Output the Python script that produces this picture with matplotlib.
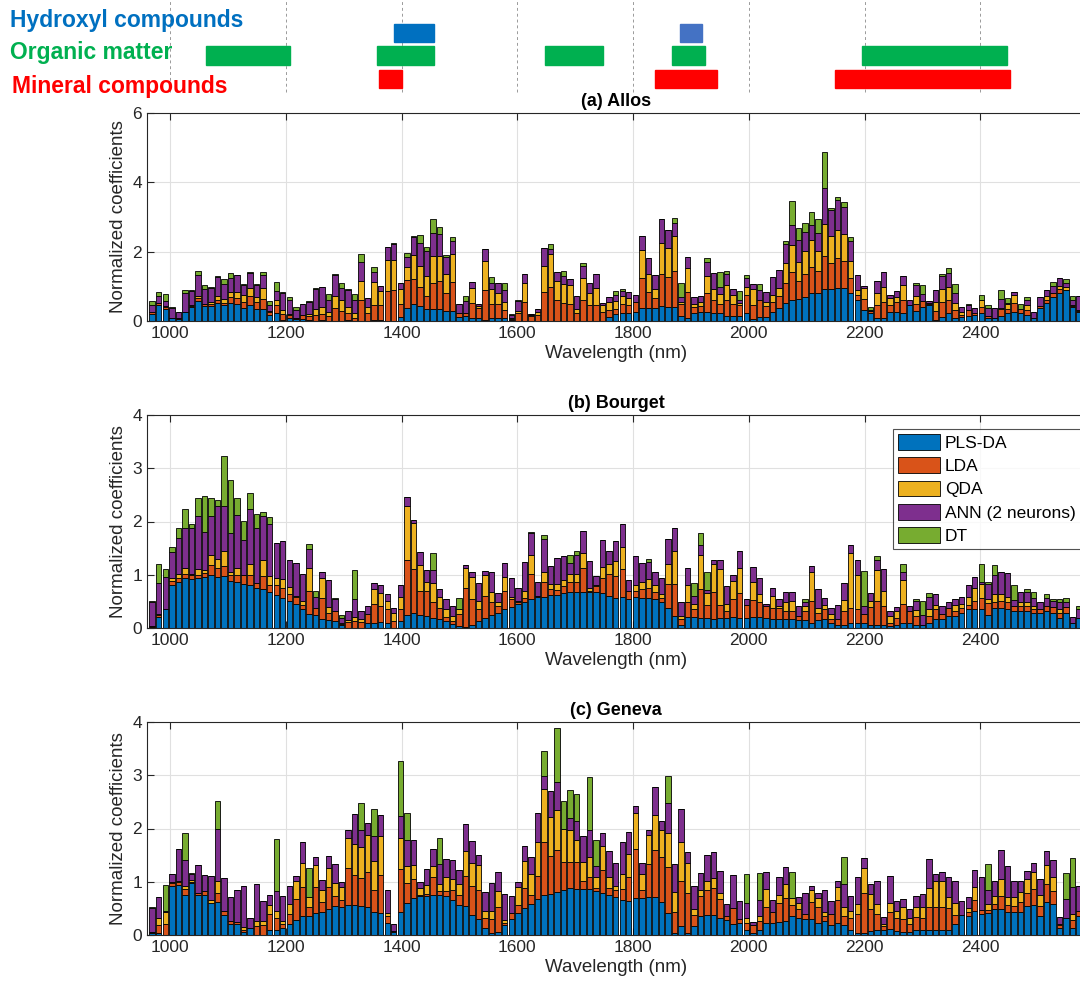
import numpy as np
import matplotlib
matplotlib.use("Agg")
import matplotlib.pyplot as plt
from matplotlib.patches import Rectangle

plt.rcParams['font.family'] = ['Liberation Sans', 'DejaVu Sans']

# band centres (nm), 143 bands
wavelengths = np.linspace(969, 2571, 143)

methods = ["PLS-DA", "LDA", "QDA", "ANN (2 neurons)", "DT"]
colors = ["#0072BD", "#D95319", "#EDB120", "#7E2F8E", "#77AC30"]

# ---- (a) Allos ----
allos_pls = [0.2,0.46,0.35,0.08,0.05,0.25,0.41,0.59,0.44,0.44,
             0.51,0.46,0.51,0.49,0.37,0.46,0.34,0.34,0.17,0.22,
             0.02,0.08,0.06,0.06,0.03,0.01,0.03,0,0,0,
             0.02,0,0,0,0.03,0.02,0,0,0.12,0.37,
             0.48,0.43,0.34,0.35,0.35,0.29,0.29,0.12,0.14,0.08,
             0.08,0.03,0.08,0.08,0.08,0.02,0,0,0,0,
             0,0,0,0,0,0,0,0,0,0,
             0.12,0.2,0.22,0.22,0.27,0.37,0.37,0.37,0.44,0.41,
             0.41,0.14,0.08,0.22,0.27,0.27,0.24,0.22,0.14,0.14,
             0.14,0.22,0.05,0.12,0.12,0.27,0.37,0.53,0.61,0.63,
             0.7,0.8,0.82,0.91,0.92,0.94,0.94,0.8,0.61,0.32,
             0.24,0.08,0.08,0.27,0.27,0.22,0.46,0.3,0.41,0.45,
             0.03,0.12,0.24,0.08,0.12,0.14,0.17,0.22,0.1,0.08,
             0.14,0.22,0.27,0.22,0.17,0.08,0.37,0.53,0.7,0.82,
             0.89,0.39,0.27]
allos_lda = [0.05,0.05,0.06,0.02,0.03,0,0.02,0.08,0.04,0.05,
             0.1,0.07,0.19,0.18,0.19,0.25,0.2,0.29,0.08,0.24,
             0.17,0.1,0.03,0.1,0.12,0.17,0.17,0.14,0.37,0.29,
             0.2,0.1,0.6,0.22,0.43,0.43,0.87,0.89,0.37,0.82,
             0.72,0.56,0.38,0.76,0.79,0.51,0.83,0.1,0.08,0.45,
             0.3,0.86,0.41,0.41,0.24,0.05,0.22,0.56,0.15,0.17,
             0.85,0.99,0.6,0.51,0.5,0.22,0.62,0.46,0.46,0.27,
             0.21,0.16,0.27,0.24,0.29,0.87,0.48,0.29,0.93,0.87,
             1.04,0.35,0.75,0.17,0.17,0.53,0.37,0.27,0.48,0.36,
             0.32,0.53,0.41,0.5,0.31,0.29,0.34,0.58,0.8,0.51,
             0.67,0.77,0.61,0.97,0.76,0.87,0.8,0.45,0.14,0.31,
             0.04,0.38,0.48,0.19,0.29,0.4,0,0.19,0.17,0.05,
             0.27,0.43,0.37,0.24,0.05,0.17,0.05,0.17,0.05,0.01,
             0.22,0.14,0.24,0.12,0.16,0.02,0.07,0.08,0.1,0.1,
             0,0.05,0.03]
allos_qda = [0.02,0.02,0.03,0,0,0,0.02,0.05,0,0.05,
             0.12,0.1,0.14,0.17,0.19,0.25,0.16,0.32,0.05,0.14,
             0.12,0.03,0,0.02,0.05,0.18,0.2,0.13,0.36,0.32,
             0.19,0.14,0.55,0.19,0.67,0.41,0.88,0.88,0.42,0.38,
             0.7,0.6,0.57,0.77,0.74,0.55,0.81,0,0.02,0.41,
             0.05,0.85,0.42,0.33,0.24,0.02,0.08,0.55,0.02,0.1,
             0.75,0.94,0.56,0.56,0.53,0.14,0.63,0.36,0.48,0.19,
             0.22,0.21,0.23,0.19,0,0.82,0.51,0.26,0.88,0.82,
             1.0,0.05,0.71,0.1,0.12,0.5,0.31,0.28,0.43,0.24,
             0.05,0.22,0.45,0,0.12,0.19,0.24,0.56,0.79,0.55,
             0.64,0.77,0.6,0.93,0.77,0.82,0.77,0.48,0.14,0.32,
             0.02,0.36,0.43,0.19,0.14,0.41,0,0.23,0,0.02,
             0.26,0.38,0.38,0.19,0.1,0,0.02,0.21,0,0,
             0.02,0.12,0.24,0,0.12,0,0,0.1,0,0.08,
             0.1,0.02,0.02]
allos_ann = [0.2,0.2,0.13,0.28,0.17,0.55,0.42,0.6,0.43,0.4,
             0.55,0.45,0.4,0.48,0.29,0.43,0.34,0.38,0.15,0.27,
             0.5,0.4,0.22,0.3,0.35,0.57,0.57,0.33,0.6,0.34,
             0.48,0.36,0.56,0.24,0.29,0.14,0.38,0.46,0.19,0.29,
             0.53,0.66,0.73,0.65,0.63,0.51,0.38,0.27,0.33,0.19,
             0.06,0.33,0.2,0.29,0.34,0.08,0.28,0.26,0.02,0.07,
             0.5,0.16,0.24,0.23,0.19,0.36,0.33,0.27,0.43,0.05,
             0.14,0.19,0.14,0.19,0.19,0.4,0.45,0.41,0.7,0.53,
             0.37,0.16,0.32,0.21,0.16,0.41,0.46,0.22,0.3,0.17,
             0.1,0.26,0.17,0.27,0.29,0.51,0.53,0.55,0.58,0.65,
             0.56,0.43,0.51,1.04,0.75,0.87,0.79,0.59,0.45,0.07,
             0.02,0.32,0.43,0.1,0.17,0.26,0.14,0.32,0.21,0.07,
             0.34,0.36,0.4,0.29,0.14,0.16,0.13,0,0.22,0.28,
             0.26,0.05,0.08,0.01,0.16,0.15,0.26,0.19,0.21,0.24,
             0.12,0.16,0.41]
allos_dt = [0.12,0.1,0.2,0.02,0.02,0.1,0.03,0.12,0.14,0.03,
            0.02,0.12,0.15,0.02,0.02,0.02,0.02,0.09,0.14,0.26,
            0.02,0.08,0.1,0.02,0.02,0.01,0,0.19,0.02,0.16,
            0.02,0.18,0.22,0.02,0.14,0.02,0.01,0.01,0,0.11,
            0.02,0.22,0.12,0.41,0.21,0.03,0.1,0,0.14,0,
            0,0,0.15,0,0.19,0.02,0.02,0,0,0,
            0,0.13,0,0.13,0,0,0.08,0,0,0,
            0,0.1,0.06,0.01,0,0,0,0,0,0,
            0.14,0.41,0,0,0,0.1,0,0.43,0.1,0,
            0.26,0.1,0,0.19,0,0,0,0.08,0.67,0.34,
            0.27,0.38,0.41,1.03,0.07,0.07,0.12,0.1,0,0,
            0.07,0,0,0,0,0,0,0.07,0.24,0,
            0,0.08,0.13,0.27,0,0.01,0,0.15,0.09,0,
            0.26,0.12,0,0.14,0.08,0,0,0,0.12,0,
            0.1,0.11,0]

# ---- (b) Bourget ----
bourget_pls = [0.02,0.21,0.36,0.81,0.86,0.94,0.92,0.94,0.96,0.99,
               0.96,0.97,0.89,0.87,0.83,0.8,0.75,0.73,0.68,0.62,
               0.57,0.51,0.45,0.36,0.27,0.25,0.17,0.15,0.13,0.06,
               0,0,0,0.1,0.1,0.11,0.1,0,0.13,0.25,
               0.29,0.24,0.22,0.19,0.16,0.13,0.08,0.03,0.02,0.06,
               0.13,0.19,0.25,0.29,0.36,0.4,0.45,0.49,0.55,0.59,
               0.59,0.62,0.62,0.66,0.67,0.67,0.67,0.67,0.67,0.66,
               0.61,0.57,0.59,0.55,0.59,0.57,0.57,0.54,0.49,0.38,
               0.22,0.06,0.21,0.21,0.19,0.19,0.17,0.19,0.19,0.21,
               0.19,0.19,0.21,0.21,0.19,0.17,0.17,0.16,0.16,0.15,
               0.15,0.1,0.15,0.16,0.1,0.06,0.06,0.1,0.1,0.1,
               0.06,0.06,0.06,0.03,0.06,0.1,0.1,0.06,0.06,0.1,
               0.17,0.17,0.22,0.22,0.29,0.35,0.36,0.35,0.25,0.38,
               0.38,0.35,0.32,0.32,0.32,0.29,0.29,0.32,0.29,0.19,
               0.29,0.1,0.19]
bourget_lda = [0.01,0.03,0,0.08,0.08,0.08,0.07,0.06,0.08,0.19,
               0.16,0.2,0.1,0.12,0.17,0.2,0.1,0.25,0.13,0.18,
               0.19,0.13,0.13,0.08,0.42,0.13,0.4,0.14,0.19,0.02,
               0.11,0.13,0.11,0.16,0.35,0.3,0.25,0.13,0.22,1.02,
               0.81,0.45,0.48,0.3,0.22,0.08,0.06,0.24,0.74,0.48,
               0.22,0.41,0.24,0.13,0.34,0.15,0.04,0.08,0.46,0.02,
               0.27,0.11,0.1,0.13,0.19,0.2,0.45,0.03,0.11,0.28,
               0.41,0.41,0.51,0.15,0.11,0.16,0.19,0.13,0.08,0.45,
               0.61,0.1,0.28,0.14,0.54,0.25,0.5,0.25,0.13,0.33,
               0.46,0.25,0.32,0.27,0.22,0.21,0.21,0.16,0.16,0.08,
               0.16,0.41,0.13,0.2,0.06,0.1,0.25,0.27,0.25,0.16,
               0.34,0.45,0.35,0.06,0.13,0.35,0.22,0.17,0,0.13,
               0.18,0.1,0.16,0.1,0.08,0.08,0.15,0.22,0.22,0.11,
               0.13,0.13,0.1,0.1,0.1,0.06,0.06,0.1,0.1,0.1,
               0.1,0,0]
bourget_qda = [0,0.03,0,0.05,0.08,0.1,0.03,0.11,0.05,0.2,
               0.17,0.27,0.07,0.14,0,0.21,0,0.29,0.17,0.14,
               0.16,0.13,0.03,0.06,0.43,0,0.36,0.1,0,0.02,
               0.04,0.08,0.05,0,0.29,0.25,0.16,0.16,0.24,1.02,
               0.88,0.5,0.17,0.36,0.21,0.15,0.08,0.08,0.36,0.41,
               0.16,0.39,0.18,0.06,0.25,0.04,0.02,0.13,0.36,0,
               0.19,0.1,0.1,0.11,0.16,0.15,0.29,0.06,0.02,0.21,
               0.19,0.27,0.43,0,0.1,0.13,0.16,0.13,0.06,0.38,
               0.62,0.06,0.32,0.1,0.64,0.22,0.54,0.67,0.13,0.35,
               0.47,0,0.34,0.16,0,0.22,0.03,0.16,0.19,0,
               0.1,0.54,0.09,0.08,0.11,0,0.22,1.04,0.65,0,
               0.11,0.57,0.29,0.13,0.13,0.46,0,0.11,0,0.13,
               0.08,0,0,0.11,0.08,0.15,0.24,0.25,0.07,0.15,
               0.13,0.1,0,0.06,0.06,0.06,0,0,0,0.06,
               0,0,0]
bourget_ann = [0.46,0.58,0.59,0.48,0.67,0.75,0.86,0.99,0.72,0.72,
               1.0,0.85,0.72,0.99,0.66,1.02,1.03,0.83,0.97,0.66,
               0.71,0.51,0.62,0.51,0.36,0.21,0.13,0.52,0.22,0.08,
               0.17,0.33,0.16,0.16,0.11,0.15,0.13,0.08,0.22,0.17,
               0.04,0.24,0.22,0.24,0.15,0.18,0.19,0,0.07,0.11,
               0.33,0.08,0.39,0.17,0.27,0.34,0.24,0.54,0.41,0.26,
               0.62,0.34,0.49,0.46,0.21,0.35,0.41,0.49,0.17,0.51,
               0.24,0.38,0.43,0.21,0.55,0.37,0.32,0.25,0.3,0.46,
               0.42,0.27,0.31,0.16,0.18,0.06,0.06,0.17,0.33,0.1,
               0.32,0.11,0.27,0.3,0.05,0.15,0.13,0.2,0.17,0.19,
               0.08,0.11,0.37,0.13,0.11,0.27,0.32,0.15,0.27,0.16,
               0.15,0.19,0.4,0.1,0.08,0.14,0.1,0.16,0.19,0.22,
               0.21,0.14,0.1,0.11,0.13,0.22,0.21,0.04,0.29,0.35,
               0.41,0.45,0.1,0.2,0.2,0.16,0.13,0.14,0.11,0.13,
               0.1,0.11,0.16]
bourget_dt = [0.02,0.36,0.15,0.11,0.19,0.36,0.08,0.35,0.66,0.34,
              0.11,0.94,1.0,0.32,0.35,0.3,0.27,0.08,0.13,0,
              0,0,0,0,0.09,0.11,0,0,0.03,0.06,
              0,0.54,0,0,0,0,0,0,0,0,
              0,0,0,0.31,0,0,0,0.22,0,0,
              0,0,0,0,0,0,0,0,0.02,0,
              0.08,0,0,0,0.14,0.08,0,0,0,0,
              0,0,0,0,0,0,0.05,0,0,0,
              0,0,0,0.24,0.24,0.33,0,0,0,0,
              0,0,0,0,0,0,0,0,0,0,
              0.06,0,0,0,0,0,0,0,0,0.65,
              0,0.08,0,0,0,0.16,0,0.05,0.25,0.08,
              0,0,0,0,0,0,0,0.35,0.03,0.2,
              0,0,0.28,0,0.05,0.11,0,0.08,0.05,0.06,
              0.08,0,0.06]

# ---- (c) Geneva ----
geneva_pls = [0.03,0.03,0,0.92,0.94,0.76,0.98,0.76,0.75,0.6,
              0.62,0.37,0.2,0.2,0.06,0.13,0,0,0.1,0.1,
              0.13,0.2,0.29,0.35,0.35,0.41,0.44,0.49,0.54,0.52,
              0.57,0.56,0.54,0.52,0.44,0.41,0.22,0.05,0.43,0.6,
              0.7,0.73,0.73,0.76,0.75,0.73,0.65,0.57,0.55,0.38,
              0.3,0.13,0.03,0.05,0.19,0.3,0.41,0.51,0.58,0.67,
              0.76,0.77,0.81,0.84,0.88,0.86,0.86,0.86,0.83,0.79,
              0.76,0.71,0.65,0.63,0.7,0.7,0.71,0.71,0.62,0.41,
              0.03,0.16,0.03,0.16,0.35,0.37,0.37,0.32,0.29,0.2,
              0.22,0.1,0.03,0.1,0.22,0.22,0.25,0.27,0.35,0.32,
              0.3,0.3,0.22,0.27,0.19,0.22,0.18,0.1,0.03,0.03,
              0.08,0.1,0.1,0.11,0.08,0.06,0.05,0.1,0.1,0.1,
              0.1,0.1,0.1,0.2,0.37,0.35,0.46,0.39,0.41,0.48,
              0.48,0.43,0.43,0.44,0.54,0.56,0.35,0.62,0.58,0.13,
              0.32,0.13,0.35]
geneva_lda = [0.03,0.15,0.2,0.06,0.06,0.1,0.02,0.03,0.08,0,
              0.17,0.08,0.06,0.05,0.03,0,0.16,0.18,0.29,0.21,
              0.08,0.19,0.38,0.55,0.17,0.49,0.18,0.41,0.19,0.13,
              0.69,0.57,0.53,0.67,0.41,0.72,0.13,0.03,0.81,0.38,
              0.35,0.03,0.04,0.32,0.08,0.1,0.19,0.19,0.56,0.54,
              0.55,0.18,0.27,0.47,0.03,0.11,0.15,0.38,0.18,0.43,
              0.98,0.72,0.79,0.53,0.49,0.51,0.16,0.22,0.06,0.44,
              0.13,0.13,0.21,0.46,0.92,0.14,0.63,0.89,0.85,0.87,
              0.41,0.86,0.76,0.22,0.38,0.47,0.52,0.35,0.06,0.3,
              0.08,0.13,0.15,0.16,0.3,0.22,0.35,0.43,0.22,0.16,
              0.09,0.32,0.3,0.08,0.2,0.43,0.17,0.21,0.36,0.76,
              0.4,0.3,0.06,0.32,0.23,0.24,0.15,0.24,0.22,0.43,
              0.43,0.43,0.41,0.18,0,0.08,0.19,0.08,0.06,0.11,
              0.25,0.13,0.11,0.18,0.25,0.3,0.19,0.34,0.24,0.05,
              0,0.16,0.1]
geneva_qda = [0,0.13,0.23,0.02,0.02,0.06,0.04,0,0,0.06,
              0.22,0,0,0,0.06,0,0.1,0.08,0.18,0.14,
              0.05,0.19,0.35,0.46,0.19,0.42,0.22,0.36,0.25,0.25,
              0.57,0.57,0.58,0.68,0.54,0.72,0.06,0,0.59,0.32,
              0.27,0.13,0.16,0.22,0.13,0.25,0.21,0.2,0.46,0.44,
              0.46,0.14,0.15,0.3,0.06,0,0.34,0.5,0.39,0.65,
              1.0,0.73,0.75,0.62,0.6,0.41,0.35,0.38,0.19,0.44,
              0.19,0.08,0.29,0.44,0.68,0.3,0.53,0.65,0.51,0.63,
              0.37,0.73,0.57,0.1,0.11,0.17,0.18,0.11,0,0,
              0,0.08,0,0.1,0.35,0,0.16,0.25,0.13,0.13,
              0,0.22,0.17,0.08,0,0.25,0.17,0.15,0.19,0.46,
              0.29,0.19,0.04,0.17,0.15,0.22,0.11,0.18,0.2,0.36,
              0.48,0.48,0.2,0.22,0,0.08,0.25,0,0.11,0.15,
              0.32,0.15,0.17,0.19,0.27,0.32,0.22,0.36,0.27,0.02,
              0,0.1,0]
geneva_ann = [0.44,0.4,0.03,0.14,0.6,0.49,0.1,0.53,0.29,0.44,
              0.98,0.62,0.46,0.6,0.77,0.19,0.69,0.37,0.19,0.38,
              0.48,0.34,0.08,0.38,0,0.14,0.19,0.22,0.35,0.1,
              0.15,0.58,0.33,0.24,0.46,0.41,0.44,0.13,0.41,0.49,
              0.47,0.1,0.31,0.32,0.37,0.35,0.35,0.27,0.51,0.41,
              0.19,0.35,0.53,0.36,0.49,0.32,0.1,0.29,0.32,0.54,
              0.25,0.49,0.52,0,0.22,0.37,0.49,0.51,0.22,0.25,
              0.5,0.43,0.6,0.4,0.13,0.22,0.11,0.53,0.17,0.56,
              0.52,0.62,0.19,0.44,0.32,0.49,0.49,0.43,0.23,0.62,
              0.33,0.3,0.06,0.29,0.32,0.21,0.32,0.32,0,0.11,
              0.4,0.08,0.09,0.41,0.24,0.11,0.44,0.27,0.5,0.2,
              0.19,0.42,0.13,0.5,0.18,0.16,0.18,0.22,0.25,0.53,
              0.13,0.17,0.37,0.41,0.27,0.2,0.32,0.62,0.27,0.27,
              0.54,0.59,0.3,0.2,0.14,0.17,0.3,0.25,0.32,0.13,
              0.35,0.52,0.47]
geneva_dt = [0.02,0,0.48,0,0,0.5,0.03,0,0,0,
             0.53,0,0,0,0,0,0,0,0,0.98,
             0,0,0,0,0.55,0,0,0,0,0,
             0,0,0.5,0,0.51,0,0,0,1.02,0.51,
             0,0,0,0,0.49,0,0,0,0,0,
             0,0,0,0,0,0,0,0,0,0,
             0.46,0,1.02,0.53,0.53,0.49,0,1.0,0.49,0,
             0,0,0,0,0,0,0,0,0,0.51,
             0,0,0,0,0,0,0,0,0,0,
             0,0.53,0,0.51,0,0,0,0,0.48,0,
             0,0,0,0,0,0,0.51,0,0,0,
             0,0,0,0,0,0,0,0,0,0,
             0,0,0,0,0,0,0,0,0.48,0,
             0,0,0,0,0,0,0,0,0,0,
             0.49,0.53,0]

# spectral regions shown above panel (a), nm
hydroxyl_ranges = [(1387, 1456), (1881, 1919)]
organic_ranges = [(1062, 1207), (1358, 1456), (1648, 1748), (1868, 1925), (2196, 2447)]
mineral_ranges = [(1361, 1401), (1838, 1945), (2149, 2452)]


def draw_panel(ax, series, title, ymax):
    bottom = np.zeros(len(wavelengths))
    for vals, c, name in zip(series, colors, methods):
        vals = np.asarray(vals, dtype=float)
        ax.bar(wavelengths, vals, width=9.4, bottom=bottom, color=c,
               edgecolor="black", linewidth=0.6, label=name, zorder=2)
        bottom += vals
    ax.set_xlim(960, 2581)
    ax.set_ylim(0, ymax)
    ax.set_xticks(range(1000, 2401, 200))
    ax.set_yticks(range(0, ymax + 1, 2 if ymax == 6 else 1))
    ax.grid(True, color="#e0e0e0", linewidth=0.8, zorder=0)
    ax.set_axisbelow(True)
    ax.tick_params(direction="in", top=True, right=False, length=5,
                   labelsize=12.5, colors="#262626", width=0.8)
    for s in ax.spines.values():
        s.set_color("#262626")
        s.set_linewidth(0.8)
    ax.set_xlabel("Wavelength (nm)", fontsize=13.5, color="#262626", labelpad=3)
    ax.set_ylabel("Normalized coefficients", fontsize=13.5, color="#262626")
    ax.set_title(title, fontsize=13, fontweight="bold", pad=5)


fig = plt.figure(figsize=(10.8, 9.98), dpi=100)
left, width = 147 / 1080, (1085 - 147) / 1080
ax1 = fig.add_axes([left, 1 - 321 / 998, width, 208 / 998])
ax2 = fig.add_axes([left, 1 - 628 / 998, width, 213 / 998])
ax3 = fig.add_axes([left, 1 - 935 / 998, width, 213 / 998])

draw_panel(ax1, [allos_pls, allos_lda, allos_qda, allos_ann, allos_dt], "(a) Allos", 6)
draw_panel(ax2, [bourget_pls, bourget_lda, bourget_qda, bourget_ann, bourget_dt], "(b) Bourget", 4)
draw_panel(ax3, [geneva_pls, geneva_lda, geneva_qda, geneva_ann, geneva_dt], "(c) Geneva", 4)

leg = ax2.legend(loc="upper left", bbox_to_anchor=(0.795, 0.935), fontsize=12.5,
                 frameon=True, fancybox=False, edgecolor="#262626",
                 handlelength=2.4, handleheight=1.0, labelspacing=0.38,
                 borderpad=0.3, handletextpad=0.3, borderaxespad=0)
leg.get_frame().set_linewidth(0.8)

# header: dashed guides and band regions above panel (a)
xtr = ax1.get_xaxis_transform()
for x in range(1000, 2401, 200):
    ax1.plot([x, x], [1.10, 1.55], transform=xtr, clip_on=False,
             color="#9a9a9a", linestyle=(0, (3, 3)), linewidth=0.7)

for i, (a, b) in enumerate(hydroxyl_ranges):
    c = "#0070C0" if i == 0 else "#4472C4"
    ax1.add_patch(Rectangle((a, 1.340), b - a, 0.090, transform=xtr,
                            clip_on=False, color=c, zorder=5))
for a, b in organic_ranges:
    ax1.add_patch(Rectangle((a, 1.231), b - a, 0.091, transform=xtr,
                            clip_on=False, color="#00B050", zorder=5))
for a, b in mineral_ranges:
    ax1.add_patch(Rectangle((a, 1.120), b - a, 0.087, transform=xtr,
                            clip_on=False, color="#FF0000", zorder=5))

fig.text(10 / 1080, 1 - 20 / 998, "Hydroxyl compounds", color="#0070C0",
         fontsize=16.5, fontweight="bold", va="center", ha="left")
fig.text(10 / 1080, 1 - 52 / 998, "Organic matter", color="#00B050",
         fontsize=16.5, fontweight="bold", va="center", ha="left")
fig.text(12 / 1080, 1 - 86 / 998, "Mineral compounds", color="#FF0000",
         fontsize=16.5, fontweight="bold", va="center", ha="left")

fig.savefig("out.png", dpi=100)
